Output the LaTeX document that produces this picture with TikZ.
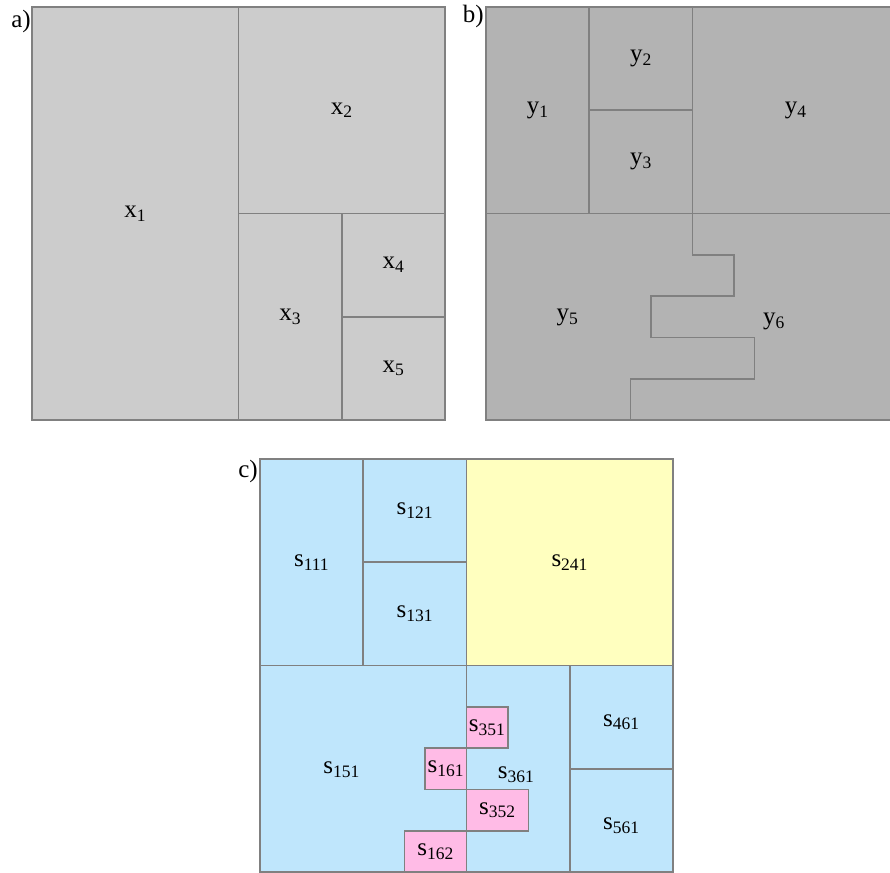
\documentclass[tikz,border=0pt]{standalone}
\usepackage{fontspec}
\setmainfont{Liberation Serif}
\usepackage{xcolor}
\usepackage{tikz}
\usetikzlibrary{positioning}

\definecolor{grayA}{RGB}{204,204,204}
\definecolor{grayB}{RGB}{179,179,179}
\definecolor{edgegray}{RGB}{128,128,128}
\definecolor{cellblue}{RGB}{191,230,252}
\definecolor{cellyellow}{RGB}{255,255,191}
\definecolor{cellpink}{RGB}{255,187,230}

\tikzset{
  cell/.style={draw=edgegray, line width=1.6pt},
  lbl/.style={font=\fontsize{25}{28}\selectfont, inner sep=0pt},
  tag/.style={font=\fontsize{25}{28}\selectfont, inner sep=0pt, anchor=north east},
}

\begin{document}
\begin{tikzpicture}[x=1pt, y=-1pt]
    \useasboundingbox (0,0) rectangle (890,872);

    % Panel a
    \node[tag] (taga) at (31,10) {a)};
    \begin{scope}[shift={(32,7)}, scale=103.25]
        \fill[grayA] (0,0) rectangle (4,4);
        \draw[cell] (0,0) rectangle (4,4);
        \draw[cell] (2,0) -- (2,4) (2,2) -- (4,2) (3,2) -- (3,4) (3,3) -- (4,3);
        \foreach \i/\px/\py in {1/1/2, 2/3/1, 3/2.5/3, 4/3.5/2.5, 5/3.5/3.5} {
            \node[lbl] (x\i) at (\px,\py) {x\textsubscript{\i}};
        }
    \end{scope}

    % Panel b
    \node[tag] (tagb) at (484,5) {b)};
    \begin{scope}[shift={(486,7)}, scale=103.25]
        \fill[grayB] (0,0) rectangle (4,4);
        \draw[cell] (0,0) rectangle (4,4);
        \draw[cell] (1,0) -- (1,2) (1,1) -- (2,1) (0,2) -- (4,2);
        % stepped border between y5 and y6
        \draw[cell] (2,0) -- (2,2.4) -- (2.4,2.4) -- (2.4,2.8) -- (1.6,2.8) -- (1.6,3.2)
            -- (2.6,3.2) -- (2.6,3.6) -- (1.4,3.6) -- (1.4,4);
        \foreach \i/\px/\py in {1/0.5/1, 2/1.5/0.5, 3/1.5/1.5, 4/3/1, 5/0.79/3.01, 6/2.79/3.05} {
            \node[lbl] (y\i) at (\px,\py) {y\textsubscript{\i}};
        }
    \end{scope}

    % Panel c
    \node[tag] (tagc) at (258,460) {c)};
    \begin{scope}[shift={(260,459)}, scale=103.25]
        \fill[cellblue] (0,0) rectangle (4,4);
        \fill[cellyellow] (2,0) rectangle (4,2);
        \draw[cell] (0,0) rectangle (4,4);
        \draw[cell] (1,0) -- (1,2) (1,1) -- (2,1) (0,2) -- (4,2) (2,0) -- (2,4)
            (3,2) -- (3,4) (3,3) -- (4,3);
        % pink pieces along the step
        \foreach \ax/\ay/\bx/\by in {2/2.4/2.4/2.8, 1.6/2.8/2/3.2, 2/3.2/2.6/3.6, 1.4/3.6/2/4} {
            \draw[cell, fill=cellpink] (\ax,\ay) rectangle (\bx,\by);
        }
        \foreach \n/\px/\py in {111/0.5/1, 121/1.5/0.5, 131/1.5/1.5, 241/3/1,
                                151/0.79/3.01, 361/2.48/3.06, 351/2.2/2.6, 161/1.8/3.0,
                                352/2.3/3.4, 162/1.7/3.8, 461/3.5/2.55, 561/3.5/3.55} {
            \node[lbl] (s\n) at (\px,\py) {s\textsubscript{\n}};
        }
    \end{scope}
\end{tikzpicture}
\end{document}
